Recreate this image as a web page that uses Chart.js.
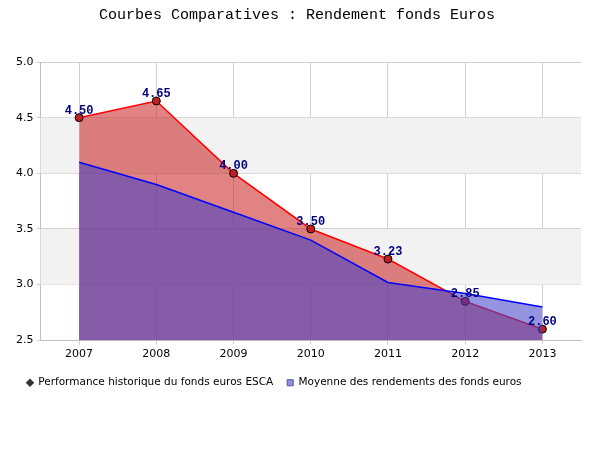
<!DOCTYPE html>
<html>
<head>
<meta charset="utf-8">
<script src="https://cdn.jsdelivr.net/npm/chart.js@4"></script>
<style>body{margin:0;background:#fff}#wrap{width:600px;height:450px}</style>
</head>
<body>
<div id="wrap"><canvas id="c"></canvas></div>
<script>
const years = ["2007", "2008", "2009", "2010", "2011", "2012", "2013"];
const esca = [4.50, 4.65, 4.00, 3.50, 3.23, 2.85, 2.60];
const moyenne = [4.10, 3.90, 3.65, 3.40, 3.02, 2.92, 2.80];
const yTicks = [2.5, 3.0, 3.5, 4.0, 4.5, 5.0];

const bands = {
  id: "bands",
  beforeDatasetsDraw(chart) {
    const { ctx, chartArea: a, scales: { y } } = chart;
    ctx.save();
    ctx.fillStyle = "#f2f2f2";
    [[3.0, 3.5], [4.0, 4.5]].forEach(([lo, hi]) => {
      ctx.fillRect(a.left, y.getPixelForValue(hi), a.right - a.left, y.getPixelForValue(lo) - y.getPixelForValue(hi));
    });
    ctx.restore();
  },
};

const valueLabels = {
  id: "valueLabels",
  afterDatasetsDraw(chart) {
    const { ctx } = chart;
    const meta = chart.getDatasetMeta(0);
    ctx.save();
    ctx.font = "bold 12px 'Liberation Mono', monospace";
    ctx.fillStyle = "#000080";
    ctx.textAlign = "center";
    ctx.textBaseline = "bottom";
    meta.data.forEach((pt, i) => {
      ctx.fillText(esca[i].toFixed(2), pt.x, pt.y - 1);
    });
    ctx.restore();
  },
};

new Chart(document.getElementById("c"), {
  type: "line",
  data: {
    labels: years,
    datasets: [
      {
        label: "Performance historique du fonds euros ESCA",
        data: esca,
        borderColor: "#ff0000",
        borderWidth: 1.5,
        backgroundColor: "rgba(200,30,30,0.55)",
        fill: "start",
        tension: 0,
        pointBackgroundColor: "#c02020",
        pointBorderColor: "#000",
        pointBorderWidth: 1,
        pointRadius: 4,
        pointStyle: "circle",
        order: 2,
      },
      {
        label: "Moyenne des rendements des fonds euros",
        data: moyenne,
        borderColor: "#0000ff",
        borderWidth: 1.5,
        backgroundColor: "rgba(60,60,200,0.55)",
        fill: "start",
        tension: 0,
        pointRadius: 0,
        order: 1,
      },
    ],
  },
  options: {
    responsive: true,
    maintainAspectRatio: false,
    animation: false,
    layout: { padding: { top: 6, right: 19, bottom: 52, left: 13 } },
    plugins: {
      title: {
        display: true,
        text: "Courbes Comparatives : Rendement fonds Euros",
        font: { family: "'Liberation Mono', monospace", size: 15, weight: "normal" },
        color: "#000",
        padding: { top: 0, bottom: 38 },
      },
      legend: {
        position: "bottom",
        align: "start",
        labels: {
          usePointStyle: true,
          boxWidth: 6,
          boxHeight: 6,
          padding: 14,
          font: { family: "'DejaVu Sans', sans-serif", size: 10.5 },
          color: "#000",
          generateLabels: () => [
            { text: "Performance historique du fonds euros ESCA", pointStyle: "rectRot", fillStyle: "#333", strokeStyle: "#333", lineWidth: 0 },
            { text: "Moyenne des rendements des fonds euros", pointStyle: "rect", fillStyle: "#9090e0", strokeStyle: "#5050a0", lineWidth: 1 },
          ],
        },
      },
      tooltip: { enabled: false },
    },
    scales: {
      x: {
        offset: true,
        grid: { offset: false, color: "#d0d0d0", tickLength: 4 },
        border: { color: "#c0c0c0" },
        ticks: { font: { family: "'DejaVu Sans', sans-serif", size: 11 }, color: "#000" },
      },
      y: {
        min: 2.5,
        max: 5.0,
        afterBuildTicks: (axis) => { axis.ticks = yTicks.map((v) => ({ value: v })); },
        grid: { color: "#d0d0d0", tickLength: 4 },
        border: { color: "#c0c0c0" },
        ticks: {
          font: { family: "'DejaVu Sans', sans-serif", size: 11 },
          color: "#000",
          callback: (v) => Number(v).toFixed(1),
        },
      },
    },
  },
  plugins: [bands, valueLabels],
});
</script>
</body>
</html>
